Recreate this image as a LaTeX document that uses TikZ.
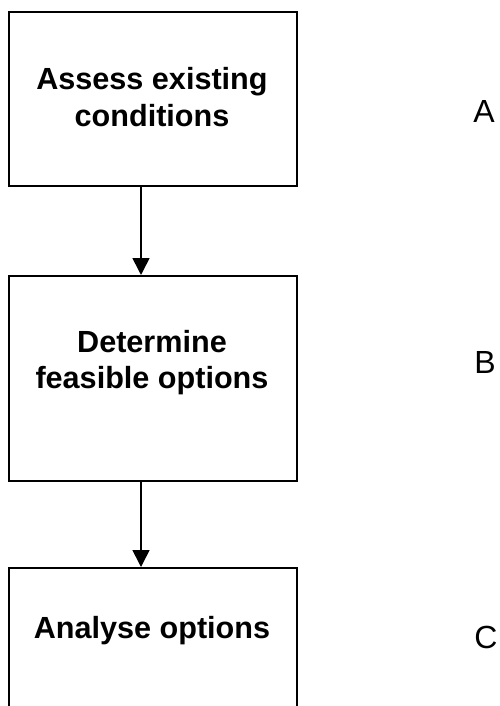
\documentclass[tikz,border=0pt]{standalone}
\usepackage{fontspec}
\setmainfont{Liberation Sans}
\usetikzlibrary{arrows.meta}
\tikzset{
  stagebox/.style={draw=black, line width=1.6pt, fill=none, inner sep=0pt, anchor=north west},
  boxtext/.style={font=\bfseries\fontsize{30.6}{36.7}\selectfont, anchor=base, inner sep=0pt},
  lettertext/.style={font=\fontsize{32}{38}\selectfont, anchor=base, inner sep=0pt},
  flowarrow/.style={line width=1.6pt, -{Triangle[width=17pt,length=17pt]}}
}
\begin{document}
\begin{tikzpicture}[x=1pt,y=-1pt]
\clip (0,0) rectangle (499,706);
\fill[white] (0,0) rectangle (499,706);
\node[stagebox, minimum width=288pt, minimum height=174pt] (b1) at (8,11) {};
\node[stagebox, minimum width=288pt, minimum height=205pt] (b2) at (8,275) {};
\node[stagebox, minimum width=288pt, minimum height=200pt] (b3) at (8,567) {};
\node[boxtext] (t1a) at (152,90) {Assess existing};
\node[boxtext] (t1b) at (152,127) {conditions};
\node[boxtext] (t2a) at (152,352) {Determine};
\node[boxtext] (t2b) at (152,388) {feasible options};
\node[boxtext] (t3a) at (152,638) {Analyse options};
\node[lettertext] (la) at (484,123) {A};
\node[lettertext] (lb) at (485,373) {B};
\node[lettertext] (lc) at (486,648) {C};
\draw[flowarrow] (b1.south -| 141,0) -- (b2.north -| 141,0);
\draw[flowarrow] (b2.south -| 141,0) -- (b3.north -| 141,0);
\end{tikzpicture}
\end{document}
